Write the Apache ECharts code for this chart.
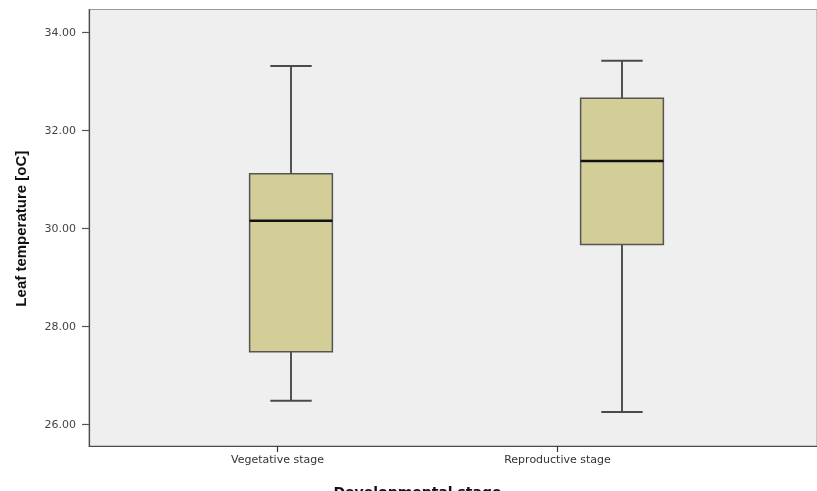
<!DOCTYPE html>
<html>
<head>
<meta charset="utf-8">
<script src="https://cdn.jsdelivr.net/npm/echarts@6/dist/echarts.min.js"></script>
<style>
  html, body { margin: 0; padding: 0; background: #ffffff; }
  #chart { width: 817px; height: 491px; }
</style>
</head>
<body>
<div id="chart"></div>
<script>
// Developmental stages shown on the horizontal axis
const stages = ['Vegetative stage', 'Reproductive stage'];

// Five-number summaries of leaf temperature (oC) per stage
const whiskerLow  = [26.49, 26.26];
const quartile1   = [27.49, 29.68];
const medians     = [30.16, 31.38];
const quartile3   = [31.12, 32.66];
const whiskerHigh = [33.32, 33.43];

// Value-axis ticks
const yTicks = [26, 28, 30, 32, 34];

const boxData = stages.map((s, i) => [i, whiskerLow[i], quartile1[i], medians[i], quartile3[i], whiskerHigh[i]]);

const chart = echarts.init(document.getElementById('chart'), null, { renderer: 'canvas' });

function renderBox(params, api) {
  const idx = api.value(0);
  const band = api.size([1, 0])[0];
  const boxW = band * 0.25;
  const capW = band * 0.125;
  const pMin = api.coord([idx, api.value(1)]);
  const pQ1  = api.coord([idx, api.value(2)]);
  const pMed = api.coord([idx, api.value(3)]);
  const pQ3  = api.coord([idx, api.value(4)]);
  const pMax = api.coord([idx, api.value(5)]);
  const cx = pMed[0];
  const whisker = { stroke: '#1e1e1e', lineWidth: 1.5 };
  const cap = { stroke: '#4a4a4a', lineWidth: 2 };
  return {
    type: 'group',
    children: [
      { type: 'line', shape: { x1: cx, y1: pMax[1], x2: cx, y2: pQ3[1] }, style: whisker },
      { type: 'line', shape: { x1: cx, y1: pQ1[1], x2: cx, y2: pMin[1] }, style: whisker },
      { type: 'line', shape: { x1: cx - capW / 2, y1: pMax[1], x2: cx + capW / 2, y2: pMax[1] }, style: cap },
      { type: 'line', shape: { x1: cx - capW / 2, y1: pMin[1], x2: cx + capW / 2, y2: pMin[1] }, style: cap },
      { type: 'rect', shape: { x: cx - boxW / 2, y: pQ3[1], width: boxW, height: pQ1[1] - pQ3[1] },
        style: { fill: '#d3ce98', stroke: '#555555', lineWidth: 1.5 } },
      { type: 'line', shape: { x1: cx - boxW / 2, y1: pMed[1], x2: cx + boxW / 2, y2: pMed[1] },
        style: { stroke: '#111111', lineWidth: 2.5 } }
    ]
  };
}

const option = {
  backgroundColor: '#ffffff',
  animation: false,
  grid: [
    // plot frame and background
    { left: 89, top: 9.5, width: 728, bottom: 45, show: true, backgroundColor: '#efefef',
      borderColor: '#9a9a9a', borderWidth: 1 },
    // boxes and value axis
    { left: 125.5, width: 662, top: 32.7, height: 392 },
    // category labels and ticks
    { left: 277.5, width: 280, bottom: 45, height: 1 }
  ],
  xAxis: [
    { gridIndex: 0, type: 'category', data: [''], axisLine: { lineStyle: { color: '#4a4a4a', width: 1.2 } },
      axisTick: { show: false }, axisLabel: { show: false }, splitLine: { show: false } },
    { gridIndex: 1, type: 'category', data: stages, show: false },
    { gridIndex: 2, type: 'category', data: stages, position: 'bottom', boundaryGap: false,
      axisLine: { show: false },
      axisTick: { show: true, length: 6, lineStyle: { color: '#333', width: 1.2 } },
      axisLabel: { margin: 9, color: '#333333', fontFamily: 'DejaVu Sans', fontSize: 11 } }
  ],
  yAxis: [
    { gridIndex: 0, type: 'value', min: 0, max: 1, axisLine: { show: true, lineStyle: { color: '#4a4a4a', width: 1.2 } },
      axisTick: { show: false }, axisLabel: { show: false }, splitLine: { show: false } },
    { gridIndex: 1, type: 'value', min: yTicks[0], max: yTicks[yTicks.length - 1], interval: 2,
      offset: 36.5,
      axisLine: { show: false },
      axisTick: { show: true, length: 7, lineStyle: { color: '#555', width: 1.2 } },
      axisLabel: { margin: 13, color: '#444444', fontFamily: 'DejaVu Sans', fontSize: 11,
        formatter: v => v.toFixed(2) },
      splitLine: { show: false },
      name: 'Leaf temperature [oC]', nameLocation: 'middle', nameGap: 60, nameRotate: 90,
      nameTextStyle: { fontFamily: 'Liberation Sans', fontWeight: 'bold', fontSize: 15, color: '#111111' } },
    { gridIndex: 2, type: 'value', show: false }
  ],
  graphic: [
    { type: 'text', x: 417.5, y: 486,
      style: { text: 'Developmental stage', font: 'bold 14px "DejaVu Sans"', fill: '#111111',
        align: 'center', verticalAlign: 'top' } }
  ],
  series: [
    { type: 'custom', xAxisIndex: 1, yAxisIndex: 1, renderItem: renderBox,
      encode: { x: 0, y: [1, 2, 3, 4, 5] }, data: boxData, clip: false }
  ]
};

chart.setOption(option);
</script>
</body>
</html>
